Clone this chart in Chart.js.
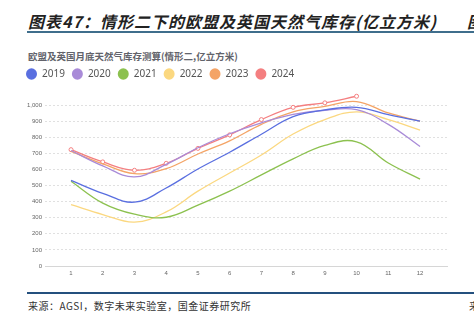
<!DOCTYPE html>
<html>
<head>
<meta charset="utf-8">
<script src="https://cdn.jsdelivr.net/npm/chart.js@4.4.0/dist/chart.umd.min.js"></script>
<style>
  html, body { margin: 0; padding: 0; background: #fff; }
  body { width: 474px; height: 326px; position: relative; overflow: hidden; font-family: "Noto Sans CJK SC", "Noto Sans", sans-serif; }
  .head { position: absolute; left: 28px; top: 9px; font-size: 16px; font-weight: bold; font-style: italic; color: #222; white-space: nowrap; letter-spacing: 1px; }
  .head2 { position: absolute; left: 467px; top: 9px; font-size: 16px; font-weight: bold; font-style: italic; color: #222; white-space: nowrap; }
  .rule-top { position: absolute; left: 27px; right: 0; top: 31px; height: 2px; background: #3f6e8c; }
  .rule-bot { position: absolute; left: 27px; right: 0; top: 292px; height: 2px; background: #24507e; }
  .sub { position: absolute; left: 28px; top: 50px; font-size: 9.5px; line-height: 12px; font-weight: bold; color: #62636b; white-space: nowrap; }
  .src { position: absolute; left: 28px; top: 298px; font-size: 10px; color: #333; white-space: nowrap; letter-spacing: 0.5px; }
  .src2 { position: absolute; left: 469px; top: 298px; font-size: 10px; color: #333; white-space: nowrap; }
  .wrap { position: absolute; left: 0; top: 45px; width: 474px; height: 240px; }
</style>
</head>
<body>
<div class="head">图表47：情形二下的欧盟及英国天然气库存(亿立方米)</div>
<div class="head2">图</div>
<div class="rule-top"></div>
<div class="sub">欧盟及英国月底天然气库存测算(情形二,亿立方米)</div>
<div class="wrap"><canvas id="myChart" width="474" height="240"></canvas></div>
<div class="rule-bot"></div>
<div class="src">来源：AGSI，数字未来实验室，国金证券研究所</div>
<div class="src2">来</div>
<script>
// months and yearly storage series (亿立方米)
const months = [1, 2, 3, 4, 5, 6, 7, 8, 9, 10, 11, 12];
const s2019 = [532, 452, 397, 485, 603, 707, 819, 928, 970, 986, 941, 900];
const s2020 = [718, 622, 554, 632, 735, 822, 890, 942, 968, 972, 880, 743];
const s2021 = [527, 391, 322, 303, 378, 465, 566, 666, 750, 772, 640, 540];
const s2022 = [381, 320, 273, 336, 465, 578, 690, 820, 910, 958, 910, 845];
const s2023 = [712, 635, 574, 605, 696, 778, 880, 958, 992, 1022, 951, 900];
const s2024 = [723, 647, 595, 638, 731, 815, 910, 986, 1014, 1055];
const yTicks = [0, 100, 200, 300, 400, 500, 600, 700, 800, 900, 1000];

const toPoints = (vals) => vals.map((v, i) => ({ x: months[i], y: v }));

const line = (label, vals, color, withPoints) => ({
  label: label,
  data: toPoints(vals),
  borderColor: color,
  backgroundColor: color,
  borderWidth: 1.3,
  tension: 0.4,
  fill: false,
  pointRadius: withPoints ? 2 : 0,
  pointBorderWidth: 1,
  pointBackgroundColor: "#fff",
  pointBorderColor: color,
  pointStyle: "circle",
});

const createChart = () => {
  const ctx = document.getElementById("myChart").getContext("2d");
  new Chart(ctx, {
    type: "line",
    data: {
      datasets: [
        line("2019", s2019, "#5a6fe0", false),
        line("2020", s2020, "#a98bd8", false),
        line("2021", s2021, "#8cc14f", false),
        line("2022", s2022, "#fbd880", false),
        line("2023", s2023, "#f4a466", false),
        line("2024", s2024, "#f47f80", true),
      ],
    },
    options: {
      responsive: false,
      animation: false,
      layout: { padding: { left: 19, right: 27, top: 17, bottom: 0 } },
      plugins: {
        legend: {
          display: true,
          position: "top",
          align: "start",
          labels: {
            usePointStyle: true,
            pointStyle: "circle",
            pointStyleWidth: 11,
            boxHeight: 8,
            padding: 7,
            color: "#555",
            font: { size: 10, family: "Noto Sans" },
            generateLabels: (chart) => chart.data.datasets.map((ds, i) => ({
              text: ds.label,
              fillStyle: ds.borderColor,
              strokeStyle: ds.borderColor,
              lineWidth: 0,
              pointStyle: "circle",
              datasetIndex: i,
              fontColor: "#555",
            })),
          },
        },
        tooltip: { enabled: false },
      },
      scales: {
        x: {
          type: "linear",
          min: 0.18,
          max: 12.85,
          afterBuildTicks: (axis) => { axis.ticks = months.map((m) => ({ value: m })); },
          afterFit: (axis) => { axis.height = 19; },
          grid: { display: false, drawTicks: false },
          border: { display: true, color: "#d6d6d6" },
          ticks: { color: "#666", font: { size: 6 }, padding: 4 },
        },
        y: {
          min: 0,
          max: 1100,
          afterBuildTicks: (axis) => { axis.ticks = yTicks.map((v) => ({ value: v })); },
          afterFit: (axis) => { axis.width = 26; },
          grid: { color: "#e0e0e0", drawTicks: false },
          border: { display: false, dash: [2, 2] },
          ticks: {
            color: "#666",
            font: { size: 6 },
            padding: 3,
            callback: (v) => v.toLocaleString("en-US"),
          },
        },
      },
    },
  });
};

document.addEventListener("DOMContentLoaded", createChart);
</script>
</body>
</html>
